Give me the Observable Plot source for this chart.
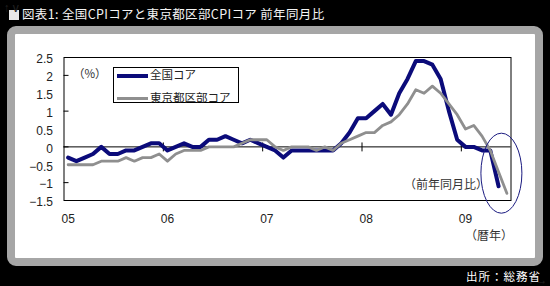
<!DOCTYPE html>
<html><head><meta charset="utf-8">
<script src="https://cdn.jsdelivr.net/npm/d3@7"></script>
<script src="https://cdn.jsdelivr.net/npm/@observablehq/plot@0.6"></script>
<style>
html,body{margin:0;padding:0;background:#000;width:550px;height:286px;overflow:hidden;}
body{position:relative;font-family:"Liberation Sans","Noto Sans CJK JP",sans-serif;}
#title{position:absolute;left:9px;top:5px;color:#f4f4f4;font:12.5px "Noto Sans CJK JP";letter-spacing:0.35px;white-space:nowrap;line-height:18px;}
#title .sq{display:inline-block;width:10px;height:10px;background:#e8e8e8;margin-right:3px;vertical-align:-1px;}
#panel{position:absolute;left:7px;top:26px;width:536px;height:240px;box-sizing:border-box;background:#fff;border:8px solid #a6a6a6;border-radius:9px;}
#chart{position:absolute;left:0;top:0;}
#legend{position:absolute;left:113px;top:67px;width:126px;height:36px;box-sizing:border-box;border:1px solid #000;background:#fff;font:11.5px "Noto Sans CJK JP";color:#222;}
#legend .row{position:absolute;left:3px;height:14px;line-height:14px;white-space:nowrap;}
#legend .sw{display:inline-block;width:31px;vertical-align:middle;margin-right:2px;}
#source{position:absolute;left:466px;top:269px;color:#fff;font:11.5px "Noto Sans CJK JP";letter-spacing:1px;line-height:14px;white-space:nowrap;}
</style></head>
<body>
<div id="title"><span class="sq"></span>図表1: 全国CPIコアと東京都区部CPIコア 前年同月比</div>
<div id="panel"></div>
<div id="chart"></div>
<div id="legend"></div>
<div id="source">出所：総務省</div>
<script>
// Year labels (Jan of each year), monthly data from Jan 2005
const years = ["05", "06", "07", "08", "09"];
const seriesNames = ["全国コア", "東京都区部コア"];
const seriesColors = ["#0b0b7a", "#8f8f8f"];
// 全国コア: Jan 2005 - May 2009 (y/y %)
const national = [
  -0.3, -0.4, -0.3, -0.2, 0.0, -0.2, -0.2, -0.1, -0.1, 0.0, 0.1, 0.1,
  -0.1, 0.0, 0.1, 0.0, 0.0, 0.2, 0.2, 0.3, 0.2, 0.1, 0.2, 0.1,
  0.0, -0.1, -0.3, -0.1, -0.1, -0.1, -0.1, -0.1, -0.1, 0.1, 0.4, 0.8,
  0.8, 1.0, 1.2, 0.9, 1.5, 1.9, 2.4, 2.4, 2.3, 1.9, 1.0, 0.2,
  0.0, 0.0, -0.1, -0.1, -1.1
];
// 東京都区部コア: Jan 2005 - Jun 2009 (y/y %)
const tokyo = [
  -0.5, -0.5, -0.5, -0.5, -0.4, -0.4, -0.4, -0.3, -0.4, -0.3, -0.3, -0.2,
  -0.4, -0.2, -0.1, -0.1, -0.1, 0.0, 0.0, 0.0, 0.0, 0.1, 0.2, 0.2,
  0.2, 0.0, -0.1, 0.0, 0.0, 0.0, -0.1, 0.0, -0.1, 0.1, 0.2, 0.3,
  0.4, 0.4, 0.6, 0.7, 0.9, 1.2, 1.6, 1.5, 1.7, 1.5, 1.2, 0.9,
  0.5, 0.6, 0.3, -0.1, -0.7, -1.3
];
const yTicks = [2.5, 2, 1.5, 1, 0.5, 0, -0.5, -1, -1.5];
const yMarks = [2, 1, 0, -1];
const unitLabel = "（%）";
const noteLabel = "（前年同月比）";
const xUnitLabel = "（暦年）";
const highlight = {i: 52.4, v: -0.75}; // circled latest values

const natData = national.map((v, i) => ({i, v}));
const tokData = tokyo.map((v, i) => ({i, v}));
const janIdx = years.map((y, k) => k * 12);
const boundaries = janIdx.slice(1).map(i => i - 0.5);
const fmt = d => (d < 0 ? "\u2212" + Math.abs(d) : String(d));

const plot = Plot.plot({
  width: 550, height: 286,
  marginLeft: 63.5, marginRight: 39.5, marginTop: 57, marginBottom: 86,
  style: {background: "transparent", color: "#000", fontFamily: '"Liberation Sans","Noto Sans CJK JP",sans-serif', fontSize: "12px", overflow: "visible"},
  x: {domain: [-0.5, 53.5]},
  y: {domain: [-1.5, 2.5]},
  marks: [
    Plot.ruleY([0], {stroke: "#000", strokeWidth: 1}),
    Plot.ruleX(boundaries, {y1: -0.14, y2: 0.11, stroke: "#000", strokeWidth: 1}),
    Plot.axisY({ticks: yTicks, tickSize: 0, tickPadding: 11, tickFormat: fmt, dy: 2, fill: "#222", fontSize: 12}),
    Plot.axisY({ticks: yMarks, tickSize: 5, dx: 5, fill: "none", stroke: "#000"}),
    Plot.axisX({ticks: janIdx, tickFormat: d => years[janIdx.indexOf(d)], tickSize: 0, tickPadding: 14, fill: "#222", fontSize: 12}),
    Plot.line(natData, {x: "i", y: "v", stroke: seriesColors[0], strokeWidth: 4, strokeLinejoin: "round"}),
    Plot.line(tokData, {x: "i", y: "v", stroke: seriesColors[1], strokeWidth: 2.8, strokeLinejoin: "round"}),
    Plot.frame({stroke: "#000", strokeWidth: 1}),
    Plot.text([unitLabel], {frameAnchor: "top-left", dx: 9, dy: 17, textAnchor: "start", lineAnchor: "middle", fontSize: 11.5, fill: "#333", fontFamily: "Noto Sans CJK JP"}),
    Plot.text([noteLabel], {frameAnchor: "bottom-right", dx: -23, dy: -15, textAnchor: "end", lineAnchor: "middle", fontSize: 12, fill: "#333", fontFamily: "Noto Sans CJK JP"}),
    Plot.text([xUnitLabel], {frameAnchor: "bottom-right", dx: 2, dy: 36, textAnchor: "end", lineAnchor: "middle", fontSize: 12, fill: "#333", fontFamily: "Noto Sans CJK JP"})
  ]
});
const sx = plot.scale("x"), sy = plot.scale("y");
d3.select(plot).append("ellipse")
  .attr("cx", sx.apply(highlight.i)).attr("cy", sy.apply(highlight.v))
  .attr("rx", 20.5).attr("ry", 40)
  .attr("fill", "none").attr("stroke", "#1a1a80").attr("stroke-width", 1);
document.getElementById("chart").appendChild(plot);

// legend
const lg = document.getElementById("legend");
seriesNames.forEach((name, k) => {
  const row = document.createElement("div");
  row.className = "row";
  row.style.top = (k === 0 ? -1 : 22) + "px";
  const sw = document.createElement("span");
  sw.className = "sw";
  sw.style.borderTop = (k === 0 ? 4 : 3) + "px solid " + seriesColors[k];
  row.appendChild(sw);
  row.appendChild(document.createTextNode(name));
  lg.appendChild(row);
});
</script>
</body></html>
